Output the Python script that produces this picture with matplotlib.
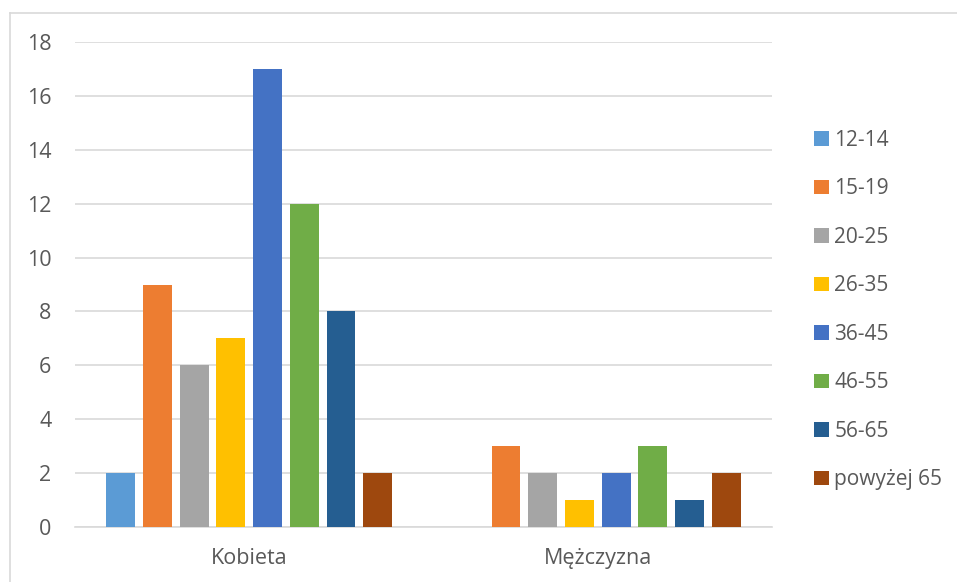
import matplotlib
matplotlib.use("Agg")
import matplotlib.pyplot as plt
import numpy as np
from matplotlib.lines import Line2D
from matplotlib.patches import Patch

plt.rcParams["font.family"] = ["Open Sans", "DejaVu Sans"]

categories = ["Kobieta", "Mężczyzna"]
age_groups = ["12-14", "15-19", "20-25", "26-35", "36-45", "46-55", "56-65", "powyżej 65"]
kobieta = [2, 9, 6, 7, 17, 12, 8, 2]
mezczyzna = [0, 3, 2, 1, 2, 3, 1, 2]
colors = ["#5B9BD5", "#ED7D31", "#A5A5A5", "#FFC000", "#4472C4", "#70AD47", "#255E91", "#9E480E"]
yticks = [0, 2, 4, 6, 8, 10, 12, 14, 16, 18]

W, H = 957, 582
fig = plt.figure(figsize=(W / 100, H / 100), dpi=100)
ax = fig.add_axes([75 / W, 1 - 527 / H, (772 - 75) / W, (527 - 42) / H])

text_color = "#595959"
grid_color = "#D9D9D9"
step = 0.1053
width = 0.083
x = np.arange(len(categories))
for i, (label, color) in enumerate(zip(age_groups, colors)):
    vals = [kobieta[i], mezczyzna[i]]
    offset = (i - 3.5) * step
    ax.bar(x + offset, vals, width=width, color=color, label=label, zorder=3)

ax.set_xlim(-0.5, 1.5)
ax.set_ylim(0, 18)
ax.set_yticks(yticks)
ax.set_xticks(x)
ax.set_xticklabels(categories)
ax.yaxis.grid(True, color=grid_color, linewidth=1.2, zorder=0)
for side in ["left", "right", "top"]:
    ax.spines[side].set_visible(False)
ax.spines["bottom"].set_color(grid_color)
ax.spines["bottom"].set_linewidth(1.2)
ax.tick_params(axis="both", length=0, labelsize=15.5, colors=text_color)
ax.tick_params(axis="y", pad=17)
ax.tick_params(axis="x", pad=15)

handles = [Patch(facecolor=c, label=l) for c, l in zip(colors, age_groups)]
fig.legend(handles=handles, loc="center left", bbox_to_anchor=(806 / W, 1 - 310 / H),
           frameon=False, fontsize=15, labelcolor=text_color,
           handlelength=0.68, handleheight=0.68, handletextpad=0.28,
           labelspacing=1.32, borderaxespad=0)

# chart border (top and left edges visible)
fig.add_artist(Line2D([10 / W, 10 / W], [0, 1 - 13 / H], transform=fig.transFigure,
                      color="#D9D9D9", linewidth=1.2))
fig.add_artist(Line2D([10 / W, 1], [1 - 13 / H, 1 - 13 / H], transform=fig.transFigure,
                      color="#D9D9D9", linewidth=1.2))

fig.savefig("out.png", dpi=100)
